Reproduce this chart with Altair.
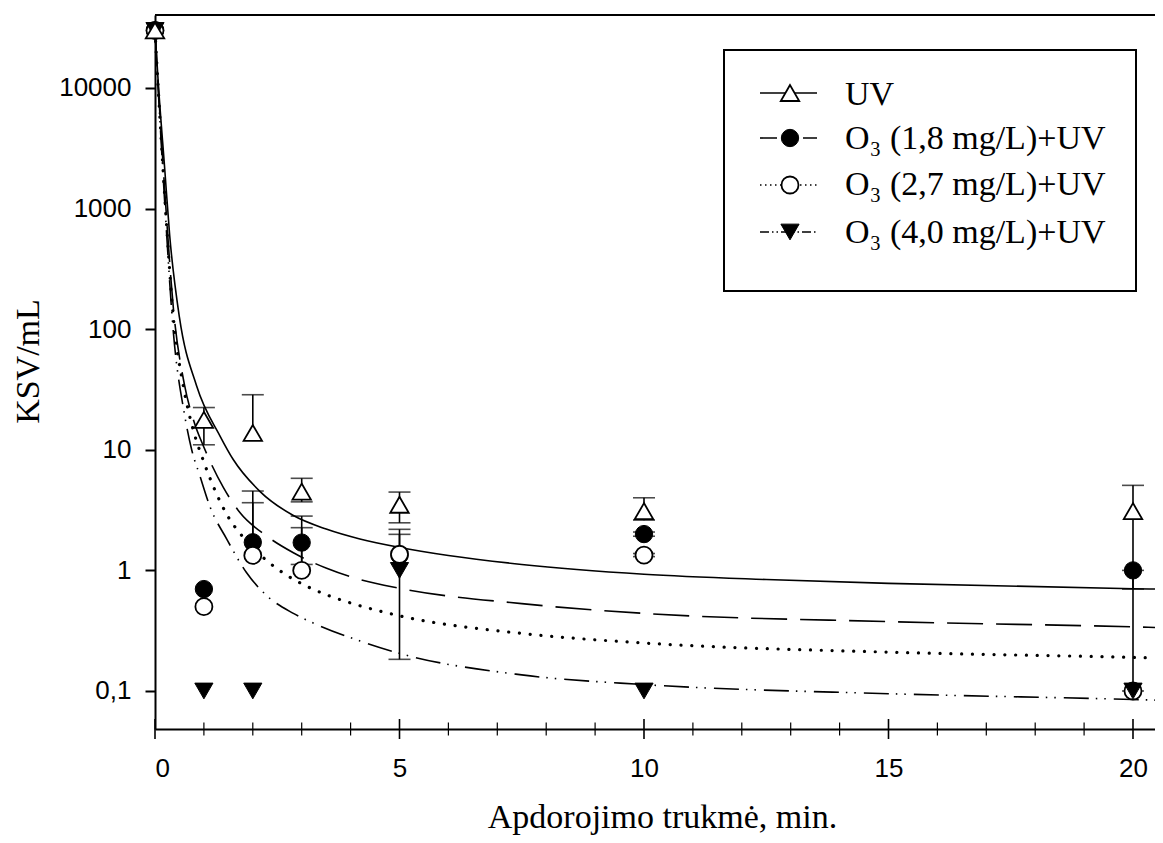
import altair as alt
import pandas as pd

# ---------------- data ----------------
# measured points (time, min -> KSV/mL)
t_pts = [0, 1, 2, 3, 5, 10, 20]
uv_pts = [30000, 17.7, 13.8, 4.5, 3.5, 3.1, 3.1]
o18_pts = [30000, 0.7, 1.71, 1.70, 1.33, 2.0, 1.0]
o27_pts = [30000, 0.5, 1.33, 1.0, 1.36, 1.34, 0.1]
t_pts_40 = [0, 1, 2, 5, 10, 20]
o40_pts = [30000, 0.1, 0.1, 1.0, 0.1, 0.1]

# error bars: time, lower (None = not drawn), upper
uv_err_t = [1, 2, 3, 5, 10, 20]
uv_err_lo = [11, None, 3.7, 2.48, 2.61, 0.7]
uv_err_hi = [22.4, 28.6, 5.8, 4.46, 4.0, 5.07]
o18_err_t = [2, 3, 5, 10, 20]
o18_err_lo = [None, 1.12, None, 1.92, 0.1]
o18_err_hi = [4.55, 2.82, 2.19, 2.08, 1.0]
o27_err_t = [2, 3, 10]
o27_err_lo = [None, None, 1.3]
o27_err_hi = [3.64, 2.26, 1.38]
o40_err_t = [5]
o40_err_lo = [0.183]
o40_err_hi = [1.99]

# fitted curves
uv_fit_t = [0, 0.07, 0.2, 0.3, 0.5, 0.85, 1.33, 1.6, 2.15, 2.83, 3.5, 4.19, 5, 6, 7.5, 10, 12.5, 15, 20, 20.45]
uv_fit_v = [30000, 10500, 2100, 600, 125, 34, 13, 8.3, 4.5, 2.85, 2.2, 1.82, 1.55, 1.33, 1.12, 0.93, 0.84, 0.78, 0.705, 0.70]
o18_fit_t = [0, 0.07, 0.2, 0.375, 0.6, 0.8, 1.0, 1.4, 1.74, 2.28, 2.83, 3.51, 4.06, 5, 7.5, 10, 15, 20, 20.45]
o18_fit_v = [30000, 9700, 1400, 150, 35, 17, 10.5, 4.85, 3.0, 1.93, 1.40, 1.04, 0.87, 0.71, 0.53, 0.44, 0.376, 0.34, 0.336]
o27_fit_t = [0, 0.07, 0.2, 0.375, 0.58, 0.78, 0.99, 1.19, 1.47, 1.81, 2.22, 2.66, 3.1, 3.54, 3.98, 5, 7.5, 10, 15, 20, 20.45]
o27_fit_v = [30000, 9300, 1250, 125, 33.7, 14.7, 8.1, 5.0, 2.9, 1.87, 1.27, 0.93, 0.74, 0.62, 0.54, 0.42, 0.30, 0.25, 0.21, 0.19, 0.188]
o40_fit_t = [0, 0.07, 0.2, 0.375, 0.6, 0.75, 0.92, 1.12, 1.47, 1.87, 2.28, 2.83, 3.31, 4.19, 5, 7.5, 10, 15, 20, 20.45]
o40_fit_v = [30000, 9000, 1100, 95, 20, 10, 6.05, 3.41, 1.81, 0.96, 0.62, 0.44, 0.355, 0.26, 0.205, 0.136, 0.113, 0.095, 0.085, 0.084]

legend_labels = ["UV", "O₃ (1,8 mg/L)+UV", "O₃ (2,7 mg/L)+UV", "O₃ (4,0 mg/L)+UV"]
x_label_values = [0, 5, 10, 15, 20]
x_minor_ticks = [v for v in range(0, 21) if v % 5 != 0]
y_tick_values = [0.1, 1, 10, 100, 1000, 10000]

# ---------------- layout ----------------
W, H = 1000, 714
SERIF = "Liberation Serif"
SANS = "Liberation Sans"


def X(field):
    return alt.X(
        f"{field}:Q",
        scale=alt.Scale(domain=[0, 20.45], nice=False, zero=False),
        axis=alt.Axis(
            values=x_label_values, ticks=False, grid=False,
            labelPadding=26, labelFont=SANS, labelFontSize=26, labelColor="black",
            domainColor="black", domainWidth=2,
            title="Apdorojimo trukmė, min.", titleFont=SERIF, titleFontSize=34,
            titleFontWeight="normal", titleColor="black",
            titleX=W / 2 + 7, titleY=98, titleBaseline="alphabetic", titleAlign="center",
        ),
    )


def Y(field):
    return alt.Y(
        f"{field}:Q",
        scale=alt.Scale(type="log", domain=[0.0484, 40270], nice=False),
        axis=alt.Axis(
            values=y_tick_values, grid=False,
            labelExpr="replace(format(datum.value, '~g'), '.', ',')",
            labelPadding=14, labelFont=SANS, labelFontSize=26, labelColor="black",
            tickSize=10, tickWidth=2, tickColor="black",
            domainColor="black", domainWidth=2,
            title="KSV/mL", titleFont=SERIF, titleFontSize=34,
            titleFontWeight="normal", titleColor="black",
            titleAngle=270, titleX=-117, titleY=346,
            titleBaseline="alphabetic", titleAlign="center",
        ),
    )


def df(**cols):
    return pd.DataFrame(cols)


layers = []

# curves
curve_styles = [
    (uv_fit_t, uv_fit_v, dict(strokeWidth=1.6)),
    (o18_fit_t, o18_fit_v, dict(strokeWidth=1.6, strokeDash=[36, 13])),
    (o27_fit_t, o27_fit_v, dict(strokeWidth=3.2, strokeDash=[0.1, 10.7], strokeCap="round")),
    (o40_fit_t, o40_fit_v, dict(strokeWidth=1.6, strokeDash=[25, 7, 1.5, 7, 1.5, 8])),
]
for ct, cv, sty in curve_styles:
    layers.append(
        alt.Chart(df(t=ct, v=cv)).mark_line(color="black", interpolate="monotone", **sty)
        .encode(x=X("t"), y=Y("v"), order="t:Q")
    )

# error bars
err_sets = [
    (uv_err_t, uv_err_lo, uv_err_hi, t_pts, uv_pts),
    (o18_err_t, o18_err_lo, o18_err_hi, t_pts, o18_pts),
    (o27_err_t, o27_err_lo, o27_err_hi, t_pts, o27_pts),
    (o40_err_t, o40_err_lo, o40_err_hi, t_pts_40, o40_pts),
]
rule_rows, cap_rows = [], []
for et, elo, ehi, pt, pv in err_sets:
    lookup = dict(zip(pt, pv))
    for t, lo, hi in zip(et, elo, ehi):
        base = lo if lo is not None else lookup[t]
        rule_rows.append({"t": t, "base": base, "hi": hi})
        cap_rows.append({"t": t, "c": hi})
        if lo is not None:
            cap_rows.append({"t": t, "c": lo})
layers.append(
    alt.Chart(pd.DataFrame(rule_rows)).mark_rule(color="black", strokeWidth=1.6)
    .encode(x=X("t"), y=Y("base"), y2="hi:Q")
)
layers.append(
    alt.Chart(pd.DataFrame(cap_rows)).mark_tick(color="black", orient="horizontal", size=22, thickness=1.6)
    .encode(x=X("t"), y=Y("c"))
)

# markers
marker_styles = {
    "o18": dict(shape="circle", filled=True, fill="black", stroke="black", strokeWidth=1, size=300, opacity=1),
    "o27": dict(shape="circle", filled=True, fill="white", stroke="black", strokeWidth=1.8, size=290, opacity=1),
    "o40": dict(shape="triangle-down", filled=True, fill="black", stroke="black", strokeWidth=1, size=330, opacity=1),
    "uv": dict(shape="triangle-up", filled=True, fill="white", stroke="black", strokeWidth=1.8, size=340, opacity=1),
}
for key, pt, pv in [("o18", t_pts, o18_pts), ("o27", t_pts, o27_pts), ("o40", t_pts_40, o40_pts), ("uv", t_pts, uv_pts)]:
    layers.append(
        alt.Chart(df(t=pt, v=pv)).mark_point(**marker_styles[key]).encode(x=X("t"), y=Y("v"))
    )

# x-axis ticks crossing the axis line
layers.append(
    alt.Chart(df(tick=x_label_values)).mark_rule(color="black", strokeWidth=1.6)
    .encode(x=X("tick"), y=alt.value(H - 10), y2=alt.value(H + 10))
)
layers.append(
    alt.Chart(df(tick=x_minor_ticks)).mark_rule(color="black", strokeWidth=1.2)
    .encode(x=X("tick"), y=alt.value(H - 6.5), y2=alt.value(H + 6.5))
)

one = pd.DataFrame({"a": [0]})
# top frame line
layers.append(
    alt.Chart(one).mark_rule(color="black", strokeWidth=2)
    .encode(x=alt.value(0), x2=alt.value(W + 3), y=alt.value(0))
)

# legend (drawn by hand to match the boxed legend of the reference)
LX0, LX1, LY0, LY1 = 569, 981, 35, 276
layers.append(
    alt.Chart(one).mark_rect(fill="white", stroke="black", strokeWidth=2)
    .encode(x=alt.value(LX0), x2=alt.value(LX1), y=alt.value(LY0), y2=alt.value(LY1))
)
row_y = [78, 123, 170, 217]
text_y = [90, 134, 180, 228]
legend_dash = [None, [17, 26], [1.5, 3.5], [9, 3, 1.5, 3, 1.5, 3]]
legend_keys = ["uv", "o18", "o27", "o40"]
for i in range(4):
    rule_kw = dict(color="black", strokeWidth=1.6)
    if legend_dash[i] is not None:
        rule_kw["strokeDash"] = legend_dash[i]
    layers.append(
        alt.Chart(one).mark_rule(**rule_kw)
        .encode(x=alt.value(605), x2=alt.value(662), y=alt.value(row_y[i]))
    )
    layers.append(
        alt.Chart(one).mark_point(**marker_styles[legend_keys[i]])
        .encode(x=alt.value(635), y=alt.value(row_y[i]))
    )
    layers.append(
        alt.Chart(one).mark_text(align="left", baseline="alphabetic", font=SERIF, fontSize=34, color="black")
        .encode(x=alt.value(690), y=alt.value(text_y[i]), text=alt.value(legend_labels[i]))
    )

chart = (
    alt.layer(*layers)
    .properties(
        width=W, height=H,
        padding={"left": 147, "top": 7, "right": 0, "bottom": 106},
        autosize=alt.AutoSizeParams(type="none"),
        background="white",
    )
    .configure_view(strokeWidth=0)
)

chart.save("out.html", embed_options={"renderer": "svg", "actions": False})
